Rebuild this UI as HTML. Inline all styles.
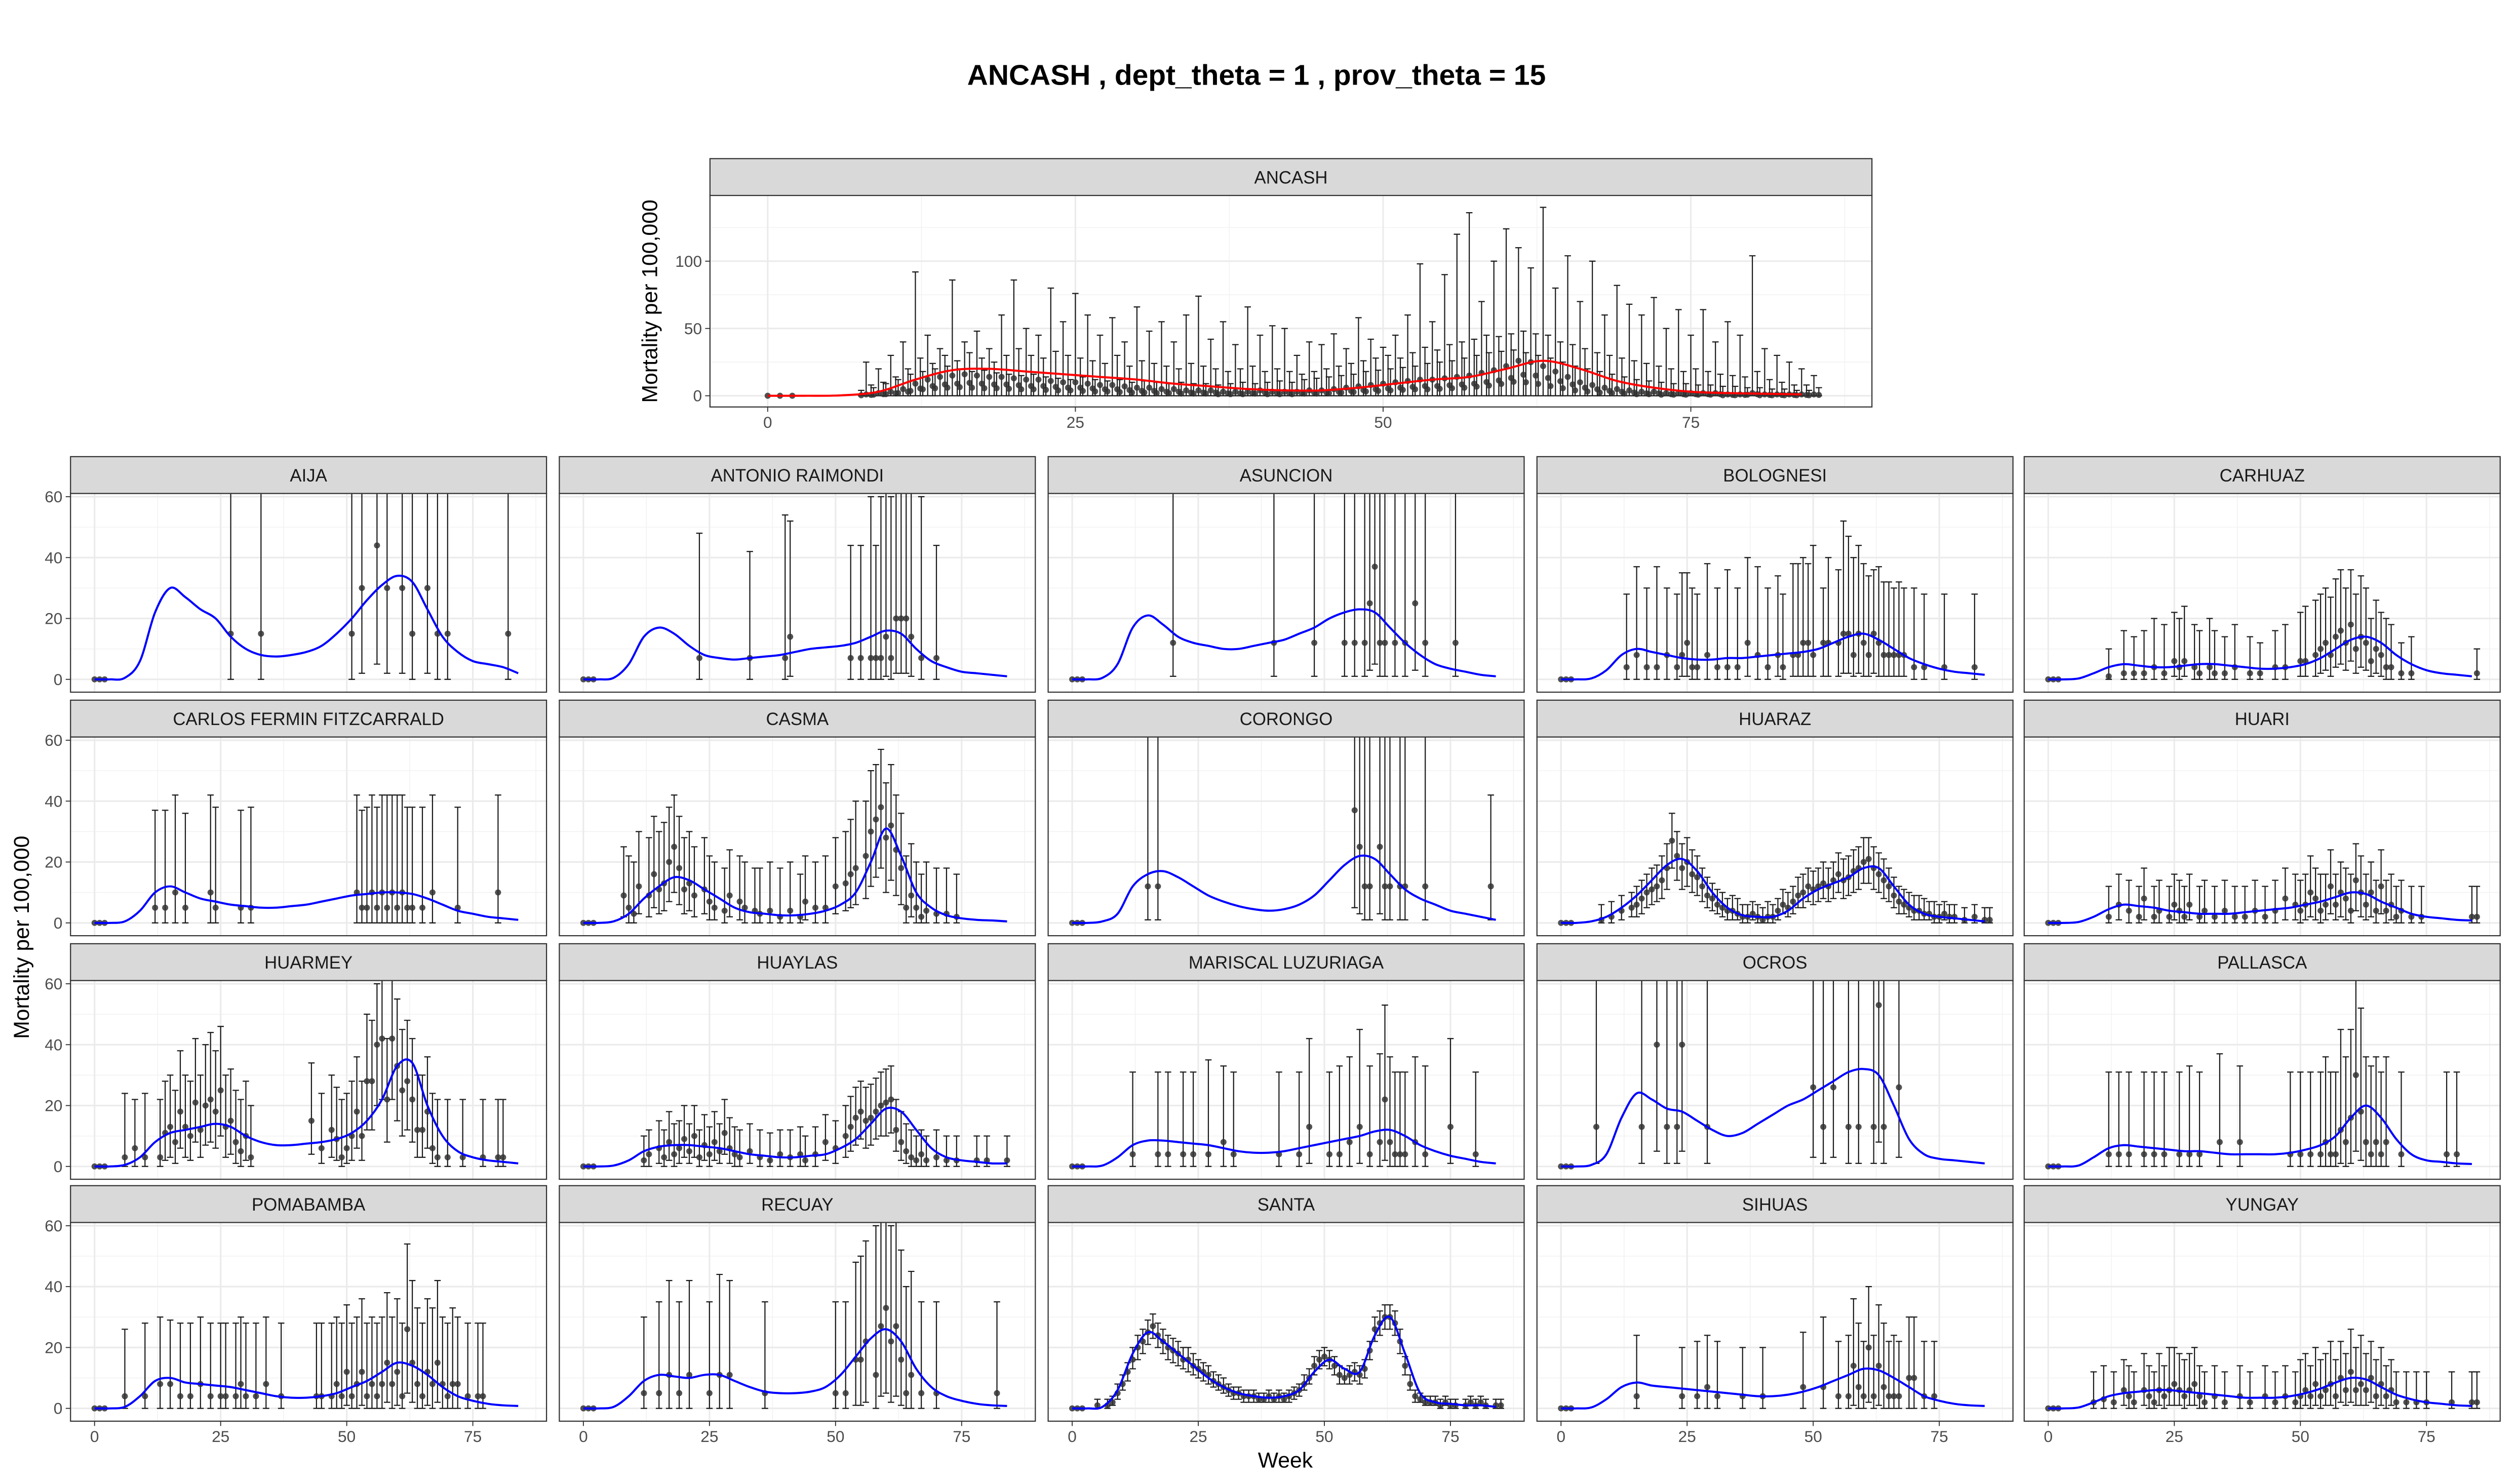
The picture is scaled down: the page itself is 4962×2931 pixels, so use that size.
<!DOCTYPE html>
<html><head><meta charset="utf-8">
<style>
html,body{margin:0;padding:0;background:#fff;}
svg{display:block;font-family:"Liberation Sans",Arial,sans-serif;}
</style></head>
<body>
<svg id="chart" width="4962" height="2931" viewBox="0 0 1568 926.2" preserveAspectRatio="none" xmlns="http://www.w3.org/2000/svg">
<rect x="0" y="0" width="1568" height="927" fill="#fff"/>
<text x="784" y="53" text-anchor="middle" font-size="18" font-weight="bold" fill="#000">ANCASH , dept_theta = 1 , prov_theta = 15</text>
<text transform="translate(410,188) rotate(-90)" text-anchor="middle" font-size="13.5" fill="#000">Mortality per 100,000</text>
<text transform="translate(18,585) rotate(-90)" text-anchor="middle" font-size="13.5" fill="#000">Mortality per 100,000</text>
<text x="802" y="916" text-anchor="middle" font-size="13.5" fill="#000">Week</text>
<g id="layer"></g>
</svg>
<script>
// ---------- data ----------
const curveWeeks = [0,3,6,9,12,15,18,21,24,27,30,33,36,39,42,45,48,51,54,57,60,63,66,69,72,75,78,81,84];
const ZERO_PTS = [[0,0,0,0],[1,0,0,0],[2,0,0,0]];
const ancashCurve = [0,0,0.3,3,12,19,20,18,16,14,12,9,7,5,4,4,6,9,12,14,20,26,20,11,6,3,2,1.5,1];
const ancashWeeks = [];
for (let w = 8; w <= 85; w++) ancashWeeks.push(w);
const ancashHi = [25,20,30,40,92,45,35,86,40,48,35,60,86,50,45,80,55,76,60,45,58,40,66,48,55,40,60,74,42,55,38,66,45,52,50,30,40,38,46,35,58,42,36,45,60,98,55,90,120,136,70,100,124,110,95,140,80,104,70,100,60,82,68,60,73,50,64,45,64,40,55,45,104,35,30,25,20,15];
const ancashMid = [8,10,14,20,28,24,30,26,32,28,25,30,35,30,28,33,30,28,26,24,30,22,26,24,22,20,24,22,20,18,20,22,18,20,18,16,18,20,22,24,26,28,30,28,32,36,34,38,40,42,45,44,46,48,46,45,40,38,35,32,30,28,26,24,22,20,18,20,18,16,15,14,18,12,10,8,8,6];
const ancashLow = [4,6,9,12,16,18,20,22,20,18,19,17,16,15,16,14,13,12,14,12,11,12,10,11,10,9,10,9,9,8,9,10,9,10,11,10,12,13,14,15,16,18,19,20,21,22,24,25,26,28,30,32,33,34,32,30,28,25,22,20,18,16,14,12,11,10,9,9,8,8,7,7,6,6,5,5,4,4];
const ancashVal = [1,2,3,5,9,12,14,15,16,15,14,14,13,12,12,11,10,10,9,8,8,7,6,6,5,5,4,4,4,3,3,3,4,3,3,3,4,4,5,6,7,8,9,10,11,12,12,13,14,15,17,19,22,26,25,22,18,14,10,8,6,5,4,3,3,2,2,2,2,2,1,1,2,1,1,1,1,1];

const panelNames = ["AIJA","ANTONIO RAIMONDI","ASUNCION","BOLOGNESI","CARHUAZ","CARLOS FERMIN FITZCARRALD","CASMA","CORONGO","HUARAZ","HUARI","HUARMEY","HUAYLAS","MARISCAL LUZURIAGA","OCROS","PALLASCA","POMABAMBA","RECUAY","SANTA","SIHUAS","YUNGAY"];
const curves = {
"AIJA":[0,0,0.5,6,22,30,27,23,20,14,10,8,7.5,8,9,11,15,20,26,31,34,32,23,14,9,6,5,4,2],
"ANTONIO RAIMONDI":[0,0,0.5,5,14,17,15,11,8,7,6.5,7,7.5,8,9,10,10.5,11,12,14,16,15,10,6,4,2.5,2,1.5,1],
"ASUNCION":[0,0,0.5,5,17,21,18,14,12,11,10,10,11,12,13,15,17,20,22,23,22,17,12,8,5,3.5,2.5,1.5,1],
"BOLOGNESI":[0,0,0.3,3,8,10,9,8,7,6.5,6.5,7,7,7.5,8,8.5,9,10,12,14,15,13,10,7,5,3.5,2.5,2,1.5],
"CARHUAZ":[0,0,0.3,2,4,5,4.5,4,4,4.5,5,5,4.5,4,3.5,3.5,4,5,7,10,13,14,12,8,5,3,2,1.5,1],
"CARLOS FERMIN FITZCARRALD":[0,0,0.5,4,10,12,10,8,7,6,5.5,5,5,5.5,6,7,8,9,9.5,10,10,9.5,8,6,4,3,2,1.5,1],
"CASMA":[0,0,0.5,3,8,12,15,14,11,8,5,3.5,3,2.5,2.5,3,4,6,10,20,31,22,10,5,2.5,1.5,1,0.8,0.5],
"CORONGO":[0,0,0.5,3,12,16,17,15,12,9,7,5.5,4.5,4,4.5,6,9,14,19,22,21,16,11,8,6,4,3,2,1],
"HUARAZ":[0,0,0.5,2,5,9,14,19,21,17,10,5,2.5,2,2,4,8,11,13,15,18,18,12,6,3,2,1.5,1,0.5],
"HUARI":[0,0,0.3,2,4.5,6,5.5,5,4,3.5,3,3,3,3.5,4,4.5,5,6,7,8.5,10,9.5,7,5,3,2,1.5,1,0.8],
"HUARMEY":[0,0,0.5,3,8,11,12,13,14,13,10,8,7,7,7.5,8,9,11,15,22,33,34,20,10,5,3,2,1.5,1],
"HUAYLAS":[0,0,0.3,2,5,6.5,7,7,6.5,6,5,4,3.5,3,3,3.5,4,6,9,14,19,18,12,6,3,2,1.5,1,1],
"MARISCAL LUZURIAGA":[0,0,0.3,3,7,8.5,8.5,8,7.5,7,6,5,4.5,4.5,5,6,7,8,9,10,11.5,12,10,7,5,3.5,2.5,1.5,1],
"OCROS":[0,0,0.5,4,16,24,22,19,18,15,12,10,11,14,17,20,22,25,28,31,32,30,20,9,4,2.5,2,1.5,1],
"PALLASCA":[0,0,0.3,3,6,7,6.5,6,5.5,5,5,4.5,4,4,4,4,4.5,5.5,7,10,16,20,16,9,4,2,1.5,1,0.8],
"POMABAMBA":[0,0,0.5,4,9,10,8.5,8,7.5,7,6,5,4,3.5,3.5,4,5,7,9,12,15,14,11,7,4,2.5,1.5,1,0.8],
"RECUAY":[0,0,0.5,4,9,11,10.5,10,11,11,9,7,5.5,5,5,5.5,7,11,17,23,26,22,13,7,4,2.5,1.5,1,0.8],
"SANTA":[0,0,0.5,6,18,25,22,18,14,10,7,5,4,3.5,4,6,12,16,13,12,24,30,18,5,2,1.5,1,1,0.5],
"SIHUAS":[0,0,0.3,3,7,8.5,7.5,7,6.5,6,5.5,5,4.5,4,4,4.5,5.5,7,9,11,13,12.5,10,7,4,2.5,1.5,1,0.8],
"YUNGAY":[0,0,0.3,2,4,5,5.5,6,6,5.5,5,4.5,4,3.5,3.5,3.5,4,5,6.5,8.5,10,9.5,7,4.5,3,2,1.5,1,0.8]
};
const points = {
"AIJA":[[27,15,0,99],[33,15,0,99],[51,15,0,99],[53,30,2,99],[56,44,5,99],[58,30,2,99],[61,30,2,99],[63,15,0,99],[66,30,2,99],[68,15,0,99],[70,15,0,99],[82,15,0,99]],
"ANTONIO RAIMONDI":[[23,7,0,48],[33,7,0,42],[40,7,0,54],[41,14,1,52],[53,7,0,44],[55,7,0,44],[57,7,0,60],[58,7,0,44],[59,7,0,60],[60,14,1,99],[61,7,0,60],[62,20,2,99],[63,20,2,99],[64,20,2,99],[65,14,1,99],[67,7,0,60],[70,7,0,44]],
"ASUNCION":[[20,12,1,99],[40,12,1,99],[48,12,1,99],[54,12,1,99],[56,12,1,99],[58,12,1,99],[59,25,3,99],[60,37,5,99],[61,12,1,99],[62,12,1,99],[64,12,1,99],[66,12,1,99],[68,25,3,99],[70,12,1,99],[76,12,1,99]],
"BOLOGNESI":[[13,4,0,28],[15,8,0,37],[17,4,0,30],[19,4,0,37],[21,8,0,30],[23,4,0,28],[24,8,1,35],[25,12,1,35],[26,4,0,30],[27,4,0,28],[29,8,0,38],[31,4,0,30],[33,4,0,36],[35,4,0,30],[37,12,1,40],[39,8,0,37],[41,4,0,30],[43,8,1,34],[44,4,0,28],[46,8,1,38],[47,8,1,38],[48,12,1,40],[49,12,1,38],[50,8,1,44],[52,12,1,30],[53,12,1,40],[55,12,1,36],[56,15,2,52],[57,15,2,47],[58,8,1,40],[59,15,2,44],[60,12,1,38],[61,8,1,34],[62,15,2,36],[63,12,1,37],[64,8,1,32],[65,8,1,32],[66,8,1,30],[67,8,1,32],[68,8,1,30],[70,4,0,30],[72,4,0,28],[76,4,0,28],[82,4,0,28]],
"CARHUAZ":[[12,1,0,10],[15,2,0,16],[17,2,0,14],[19,2,0,16],[21,4,0,20],[23,2,0,18],[25,6,1,22],[26,4,0,20],[27,6,1,24],[29,4,0,18],[30,2,0,16],[32,4,0,20],[33,2,0,16],[35,2,0,14],[37,4,0,18],[40,2,0,14],[42,2,0,12],[45,4,0,16],[47,4,0,18],[50,6,1,22],[51,6,1,24],[53,8,1,26],[54,10,2,28],[55,12,3,30],[56,8,1,27],[57,14,4,33],[58,16,5,36],[59,12,3,30],[60,18,6,36],[61,10,2,28],[62,14,4,34],[63,12,3,30],[64,6,1,20],[65,10,2,26],[66,8,1,22],[67,4,0,20],[68,4,0,18],[70,2,0,12],[72,2,0,14],[85,2,0,10]],
"CARLOS FERMIN FITZCARRALD":[[12,5,0,37],[14,5,0,37],[16,10,0,42],[18,5,0,36],[23,10,0,42],[24,5,0,38],[29,5,0,37],[31,5,0,38],[52,10,0,42],[53,5,0,37],[54,5,0,38],[55,10,0,42],[56,5,0,38],[57,10,0,42],[58,5,0,42],[59,10,0,42],[60,5,0,42],[61,10,0,42],[62,5,0,38],[63,5,0,38],[65,5,0,38],[67,10,0,42],[72,5,0,38],[80,10,0,42]],
"CASMA":[[8,9,2,25],[9,5,0,22],[10,3,0,20],[11,12,3,30],[13,9,2,28],[14,16,5,35],[15,11,3,30],[16,13,4,33],[17,20,7,38],[18,25,10,42],[19,18,6,35],[20,11,3,28],[21,13,4,30],[22,9,2,25],[24,11,3,28],[25,7,1,22],[26,5,1,20],[28,4,0,18],[29,9,2,24],[31,7,1,22],[32,5,0,20],[34,4,0,18],[35,3,0,18],[37,4,0,20],[39,2,0,18],[41,4,0,20],[43,2,0,16],[44,7,1,22],[46,5,0,20],[48,5,0,22],[50,12,3,28],[52,13,4,30],[53,16,5,34],[54,18,6,40],[56,22,8,40],[57,30,12,50],[58,34,15,52],[59,38,18,57],[60,28,10,46],[61,32,14,52],[62,24,9,42],[63,18,6,36],[64,5,0,22],[65,9,2,26],[66,5,0,20],[67,2,0,16],[68,4,0,20],[70,3,0,18],[72,3,0,18],[74,2,0,16]],
"CORONGO":[[15,12,1,99],[17,12,1,99],[56,37,5,99],[57,25,3,99],[58,12,1,99],[59,12,1,99],[61,25,3,99],[62,12,1,99],[63,12,1,99],[65,12,1,99],[66,12,1,99],[70,12,1,99],[83,12,1,42]],
"HUARAZ":[[8,1,0,6],[10,2,0,7],[12,4,1,9],[14,5,2,10],[15,6,2,12],[16,8,3,14],[17,10,5,16],[18,11,6,18],[19,12,7,19],[20,14,8,22],[21,18,11,26],[22,27,18,36],[23,22,14,30],[24,18,11,26],[25,20,12,28],[26,16,10,24],[27,15,9,22],[28,12,7,18],[29,9,5,15],[30,8,4,13],[31,6,3,11],[32,5,2,10],[33,4,1,8],[34,4,1,9],[35,3,1,8],[36,2,0,6],[37,2,0,6],[38,3,1,7],[39,2,0,6],[40,1,0,5],[41,2,0,7],[42,2,0,6],[43,4,1,8],[44,6,3,11],[45,5,2,10],[46,7,3,12],[47,9,5,15],[48,10,5,16],[49,12,7,18],[50,11,6,17],[51,12,7,18],[52,13,8,20],[53,12,7,18],[54,14,8,20],[55,16,10,23],[56,14,8,21],[57,15,9,22],[58,17,10,24],[59,18,11,25],[60,20,13,28],[61,21,13,28],[62,18,11,25],[63,16,10,23],[64,14,8,21],[65,12,7,18],[66,9,5,15],[67,7,3,12],[68,6,3,11],[69,5,2,10],[70,4,1,9],[71,4,1,9],[72,3,1,8],[73,3,1,7],[74,2,0,7],[75,2,0,6],[76,3,1,7],[77,2,0,6],[78,2,0,6],[80,1,0,5],[82,2,0,6],[84,1,0,5],[85,1,0,5]],
"HUARI":[[12,2,0,12],[14,6,1,16],[16,4,0,14],[18,2,0,12],[19,8,1,18],[21,2,0,12],[22,4,0,14],[24,2,0,12],[25,6,1,16],[26,4,0,14],[27,2,0,12],[28,6,1,16],[30,2,0,12],[31,4,0,14],[33,2,0,12],[35,4,0,14],[37,2,0,12],[39,2,0,12],[41,4,0,14],[43,2,0,12],[45,4,0,14],[47,8,1,18],[49,6,1,16],[50,4,0,14],[51,6,1,16],[52,10,2,22],[53,8,1,18],[54,4,0,16],[55,6,1,16],[56,12,3,24],[57,6,1,16],[58,10,2,20],[59,8,1,18],[60,4,0,16],[61,14,4,26],[62,10,2,22],[63,6,1,16],[64,10,2,20],[65,4,0,14],[66,12,3,24],[67,4,0,14],[68,6,1,16],[69,2,0,12],[70,4,0,14],[72,2,0,12],[74,2,0,12],[84,2,0,12],[85,2,0,12]],
"HUARMEY":[[6,3,0,24],[8,6,0,22],[10,3,0,24],[13,3,0,22],[14,11,2,28],[15,13,3,30],[16,8,1,25],[17,18,6,38],[18,13,3,30],[19,10,2,28],[20,21,8,42],[21,12,3,30],[22,20,7,40],[23,22,8,44],[24,18,6,38],[25,25,10,46],[26,13,3,30],[27,15,4,32],[28,8,1,25],[29,5,0,22],[30,10,2,28],[31,3,0,20],[43,15,4,34],[45,6,1,24],[47,12,3,30],[48,9,2,26],[49,3,0,22],[50,6,1,24],[51,10,2,28],[52,18,6,36],[53,10,2,28],[54,28,12,50],[55,28,12,48],[56,40,20,60],[57,42,22,65],[58,22,8,42],[59,42,22,65],[60,33,15,55],[61,25,10,45],[62,28,12,48],[63,22,8,42],[64,12,3,30],[65,12,3,30],[66,18,6,36],[67,6,1,24],[68,3,0,22],[70,3,0,22],[73,3,0,22],[77,3,0,22],[80,3,0,22],[81,3,0,22]],
"HUAYLAS":[[12,2,0,10],[13,4,0,12],[15,6,1,15],[16,3,0,12],[17,8,2,18],[18,4,0,14],[19,6,1,15],[20,9,3,20],[21,5,1,14],[22,10,3,20],[23,3,0,12],[24,7,2,17],[25,4,0,13],[26,8,2,18],[27,5,1,14],[28,11,4,22],[29,6,1,16],[30,4,0,13],[31,3,0,12],[33,5,1,14],[35,3,0,12],[37,2,0,11],[39,4,0,12],[41,3,0,12],[43,4,0,13],[44,2,0,10],[46,4,0,13],[48,8,2,17],[50,6,1,15],[52,10,3,20],[53,13,5,23],[54,16,7,26],[55,18,9,28],[56,15,6,26],[57,16,7,27],[58,18,9,29],[59,20,10,31],[60,21,10,32],[61,22,11,33],[62,12,5,22],[63,8,2,18],[64,5,1,14],[65,3,0,12],[66,2,0,10],[67,4,0,12],[68,2,0,10],[70,3,0,12],[72,2,0,10],[74,2,0,10],[78,2,0,10],[80,2,0,10],[84,2,0,10]],
"MARISCAL LUZURIAGA":[[12,4,0,31],[17,4,0,31],[19,4,0,31],[22,4,0,31],[24,4,0,31],[27,4,0,35],[30,8,0,33],[32,4,0,31],[41,4,0,31],[45,4,0,31],[47,13,1,42],[51,4,0,31],[53,4,0,33],[55,8,0,36],[57,13,1,45],[59,4,0,33],[61,8,0,37],[62,22,2,53],[63,8,0,36],[64,4,0,31],[65,4,0,31],[66,4,0,31],[68,8,0,36],[70,4,0,33],[75,13,1,42],[80,4,0,31]],
"OCROS":[[7,13,1,99],[16,13,1,99],[19,40,5,99],[21,13,1,99],[23,13,1,99],[24,40,5,99],[29,13,1,99],[50,26,3,99],[52,13,1,99],[54,26,3,99],[57,13,1,99],[59,13,1,99],[62,13,1,99],[63,53,8,99],[64,13,1,99],[67,26,3,99]],
"PALLASCA":[[12,4,0,31],[14,4,0,31],[16,4,0,31],[19,4,0,31],[21,4,0,31],[23,4,0,31],[26,4,0,31],[28,4,0,33],[30,4,0,31],[34,8,0,37],[38,8,0,33],[48,4,0,31],[50,4,0,31],[52,4,0,31],[54,4,0,31],[55,8,0,36],[56,4,0,31],[57,4,0,31],[58,12,1,45],[59,8,0,36],[60,16,1,45],[61,30,5,62],[62,18,2,52],[63,8,0,36],[64,4,0,33],[65,8,0,36],[66,4,0,31],[67,8,0,36],[70,4,0,31],[79,4,0,31],[81,4,0,31]],
"POMABAMBA":[[6,4,0,26],[10,4,0,28],[13,8,0,30],[15,8,0,29],[17,4,0,28],[19,4,0,28],[21,8,0,30],[23,4,0,28],[25,4,0,28],[26,4,0,28],[28,4,0,28],[29,8,0,30],[30,4,0,28],[32,4,0,28],[34,8,0,30],[37,4,0,28],[44,4,0,28],[45,4,0,28],[47,4,0,28],[48,8,0,30],[49,4,0,28],[50,12,1,34],[51,4,0,28],[52,8,0,30],[53,12,1,36],[54,4,0,28],[55,8,0,30],[56,4,0,28],[57,8,0,30],[58,15,2,38],[59,8,0,30],[60,12,1,36],[61,4,0,28],[62,26,5,54],[63,15,2,42],[64,8,0,33],[65,4,0,28],[66,12,1,36],[67,8,0,33],[68,15,2,42],[69,8,0,30],[70,4,0,28],[71,8,0,33],[72,8,0,30],[74,4,0,28],[76,4,0,28],[77,4,0,28]],
"RECUAY":[[12,5,0,30],[15,5,0,35],[17,11,0,42],[19,5,0,35],[21,11,0,42],[25,5,0,35],[27,11,0,44],[29,11,0,42],[36,5,0,35],[50,5,0,35],[52,5,0,35],[54,16,1,48],[55,16,1,50],[56,22,2,55],[58,11,0,60],[59,27,4,62],[60,33,5,65],[61,22,2,60],[62,27,4,62],[63,16,1,52],[64,5,0,40],[65,11,0,45],[67,5,0,35],[70,5,0,35],[82,5,0,35]],
"SANTA":[[5,1,0,3],[7,1,0,3],[8,2,1,4],[9,5,3,8],[10,8,6,11],[11,12,9,15],[12,16,13,20],[13,20,16,24],[14,22,18,26],[15,25,21,29],[16,27,23,31],[17,24,20,28],[18,22,18,26],[19,20,16,24],[20,19,15,23],[21,18,14,22],[22,16,13,20],[23,16,12,20],[24,14,11,18],[25,13,10,16],[26,12,9,15],[27,11,8,14],[28,9,7,12],[29,8,6,11],[30,7,5,10],[31,6,4,8],[32,5,3,7],[33,5,3,7],[34,4,2,6],[35,4,2,6],[36,4,2,6],[37,3,2,5],[38,3,2,5],[39,4,2,6],[40,3,2,5],[41,4,2,6],[42,3,2,5],[43,4,2,6],[44,5,3,7],[45,6,4,8],[46,8,6,11],[47,10,8,13],[48,14,11,17],[49,16,13,19],[50,17,14,20],[51,16,13,19],[52,14,11,17],[53,11,8,14],[54,10,8,13],[55,11,8,14],[56,12,9,15],[57,11,8,14],[58,13,10,16],[59,19,16,22],[60,26,22,30],[61,28,24,32],[62,30,26,34],[63,30,26,34],[64,28,24,32],[65,22,18,26],[66,14,11,17],[67,8,6,11],[68,4,2,6],[69,3,2,5],[70,2,1,4],[71,2,1,4],[72,2,1,4],[73,1,0,3],[74,2,1,4],[75,1,0,3],[76,1,0,3],[78,1,0,3],[79,2,1,4],[80,1,0,3],[81,2,1,4],[82,1,0,3],[84,1,0,3],[85,1,0,3]],
"SIHUAS":[[15,4,0,24],[24,4,0,20],[27,4,0,22],[29,7,0,24],[31,4,0,22],[36,4,0,20],[40,4,0,20],[48,7,0,25],[52,7,0,30],[55,4,0,22],[57,4,0,24],[58,14,1,36],[59,7,0,28],[60,4,0,22],[61,20,2,40],[62,4,0,24],[63,14,1,34],[64,7,0,28],[65,4,0,22],[66,4,0,24],[67,4,0,22],[69,10,0,30],[70,10,0,30],[72,4,0,22],[74,4,0,22]],
"YUNGAY":[[9,2,0,12],[11,3,0,14],[13,2,0,12],[15,6,1,16],[16,4,0,14],[17,2,0,12],[19,6,1,18],[20,4,0,14],[21,2,0,12],[22,6,1,18],[23,4,0,14],[24,6,1,20],[25,8,1,20],[26,6,1,18],[27,4,0,16],[28,6,1,18],[29,8,1,20],[30,4,0,14],[31,2,0,12],[33,4,0,14],[35,2,0,12],[38,4,0,14],[40,2,0,12],[43,4,0,14],[45,2,0,12],[47,4,0,14],[49,2,0,12],[50,4,0,16],[51,6,1,18],[52,4,0,14],[53,8,1,20],[54,4,0,16],[55,6,1,18],[56,8,1,22],[57,4,0,16],[58,10,2,22],[59,6,1,18],[60,12,2,26],[61,6,1,20],[62,8,1,24],[63,6,1,18],[64,10,2,22],[65,4,0,16],[66,8,1,20],[67,4,0,14],[68,6,1,16],[69,2,0,12],[71,2,0,12],[73,2,0,12],[75,2,0,12],[80,2,0,12],[84,2,0,12],[85,2,0,12]]
};
const xTicks = [0,25,50,75];
const smallYTicks = [0,20,40,60];
const topYTicks = [0,50,100];

// ---------- drawing ----------
const NS = "http://www.w3.org/2000/svg";
const layer = document.getElementById('layer');
function mk(tag, attrs, parent) {
  const e = document.createElementNS(NS, tag);
  for (const k in attrs) e.setAttribute(k, attrs[k]);
  (parent || layer).appendChild(e);
  return e;
}
function smoothPath(pts) {
  let d = "M" + pts[0][0].toFixed(2) + "," + pts[0][1].toFixed(2);
  for (let i = 0; i < pts.length - 1; i++) {
    const p0 = pts[Math.max(0, i - 1)], p1 = pts[i], p2 = pts[i + 1], p3 = pts[Math.min(pts.length - 1, i + 2)];
    const c1x = p1[0] + (p2[0] - p0[0]) / 6, c1y = p1[1] + (p2[1] - p0[1]) / 6;
    const c2x = p2[0] - (p3[0] - p1[0]) / 6, c2y = p2[1] - (p3[1] - p1[1]) / 6;
    d += " C" + c1x.toFixed(2) + "," + c1y.toFixed(2) + " " + c2x.toFixed(2) + "," + c2y.toFixed(2) + " " + p2[0].toFixed(2) + "," + p2[1].toFixed(2);
  }
  return d;
}

function drawPanel(cfg) {
  const { name, px, py, pw, ph, xs, ys, yTicks, yMinor, xMinor, curve, color, pts, showY, showX, key } = cfg;
  const g = mk('g', {});
  
  
  const strip = mk('rect', { x: px, y: py - 23, width: pw, height: 23, fill: '#d9d9d9', stroke: '#333', 'stroke-width': 0.7 }, g);
  
  
  const st = mk('text', { x: px + pw / 2, y: py - 7.5, 'text-anchor': 'middle', 'font-size': 11, fill: '#1a1a1a' }, g);
  st.textContent = name;
  
  
  mk('rect', { x: px, y: py, width: pw, height: ph, fill: '#fff' }, g);
  const clipId = 'clip-' + key;
  const cp = mk('clipPath', { id: clipId }, g);
  mk('rect', { x: px, y: py, width: pw, height: ph }, cp);
  const inner = mk('g', { 'clip-path': 'url(#' + clipId + ')' }, g);
  yMinor.forEach(v => mk('line', { x1: px, x2: px + pw, y1: ys(v), y2: ys(v), stroke: '#f2f2f2', 'stroke-width': 0.5 }, inner));
  xMinor.forEach(v => mk('line', { x1: xs(v), x2: xs(v), y1: py, y2: py + ph, stroke: '#f2f2f2', 'stroke-width': 0.5 }, inner));
  yTicks.forEach(v => mk('line', { x1: px, x2: px + pw, y1: ys(v), y2: ys(v), stroke: '#ebebeb', 'stroke-width': 1 }, inner));
  xTicks.forEach(v => mk('line', { x1: xs(v), x2: xs(v), y1: py, y2: py + ph, stroke: '#ebebeb', 'stroke-width': 1 }, inner));
  pts.forEach(p => {
    const x = xs(p[0]);
    const eb = mk('g', { stroke: '#1a1a1a', 'stroke-width': 0.7 }, inner);
    
    
    if (p[3] > p[2]) {
      mk('line', { x1: x, x2: x, y1: ys(p[2]), y2: ys(p[3]) }, eb);
      mk('line', { x1: x - 2, x2: x + 2, y1: ys(p[3]), y2: ys(p[3]) }, eb);
      mk('line', { x1: x - 2, x2: x + 2, y1: ys(p[2]), y2: ys(p[2]) }, eb);
    }
    const c = mk('circle', { cx: x, cy: ys(p[1]), r: 1.9, fill: '#333', 'fill-opacity': 0.85 }, inner);
    
    
  });
  const cpts = curveWeeks.map((w, i) => [xs(w), ys(curve[i])]);
  const line = mk('path', { d: smoothPath(cpts), fill: 'none', stroke: color, 'stroke-width': 1.3 }, inner);
  
  
  mk('rect', { x: px, y: py, width: pw, height: ph, fill: 'none', stroke: '#333', 'stroke-width': 0.7 }, g);
  if (showY) {
    yTicks.forEach(v => {
      mk('line', { x1: px - 3, x2: px, y1: ys(v), y2: ys(v), stroke: '#333', 'stroke-width': 0.6 }, g);
      const t = mk('text', { x: px - 5, y: ys(v) + 3.5, 'text-anchor': 'end', 'font-size': 10, fill: '#4d4d4d' }, g);
      t.textContent = v;
      
      
    });
  }
  if (showX) {
    xTicks.forEach(v => {
      mk('line', { x1: xs(v), x2: xs(v), y1: py + ph, y2: py + ph + 3, stroke: '#333', 'stroke-width': 0.6 }, g);
      const t = mk('text', { x: xs(v), y: py + ph + 13, 'text-anchor': 'middle', 'font-size': 10, fill: '#4d4d4d' }, g);
      t.textContent = v;
      
      
    });
  }
}

// top panel
const topPts = ZERO_PTS.concat(ancashWeeks.map((w, i) => [w, ancashVal[i], 0, ancashHi[i]]))
  .concat(ancashWeeks.map((w, i) => [w + 0.4, ancashVal[i] * 0.6, 0, ancashMid[i]]))
  .concat(ancashWeeks.map((w, i) => [w - 0.4, ancashVal[i] * 0.4, 0, ancashLow[i]]));
drawPanel({
  name: 'ANCASH', key: 'ancash', px: 443, py: 122, pw: 725, ph: 132,
  xs: w => 479 + 7.68 * w, ys: v => 247 - 0.84 * v,
  yTicks: topYTicks, yMinor: [25, 75, 125], xMinor: [12.5, 37.5, 62.5, 87.5],
  curve: ancashCurve, color: '#ff0000', pts: topPts, showY: true, showX: true
});

const colL = [44, 349, 654, 959, 1263];
const rowT = [308, 460, 612, 763];
panelNames.forEach((nm, i) => {
  const c = i % 5, r = Math.floor(i / 5);
  const px = colL[c], py = rowT[r];
  drawPanel({
    name: nm, key: nm.toLowerCase().replace(/ /g, '-'), px: px, py: py, pw: 297, ph: 124,
    xs: w => px + 15 + 3.147 * w, ys: v => py + 116 - 1.9 * v,
    yTicks: smallYTicks, yMinor: [10, 30, 50], xMinor: [12.5, 37.5, 62.5, 87.5],
    curve: curves[nm], color: '#0000ff', pts: ZERO_PTS.concat(points[nm]),
    showY: c === 0, showX: r === 3
  });
});
</script>
</body></html>
